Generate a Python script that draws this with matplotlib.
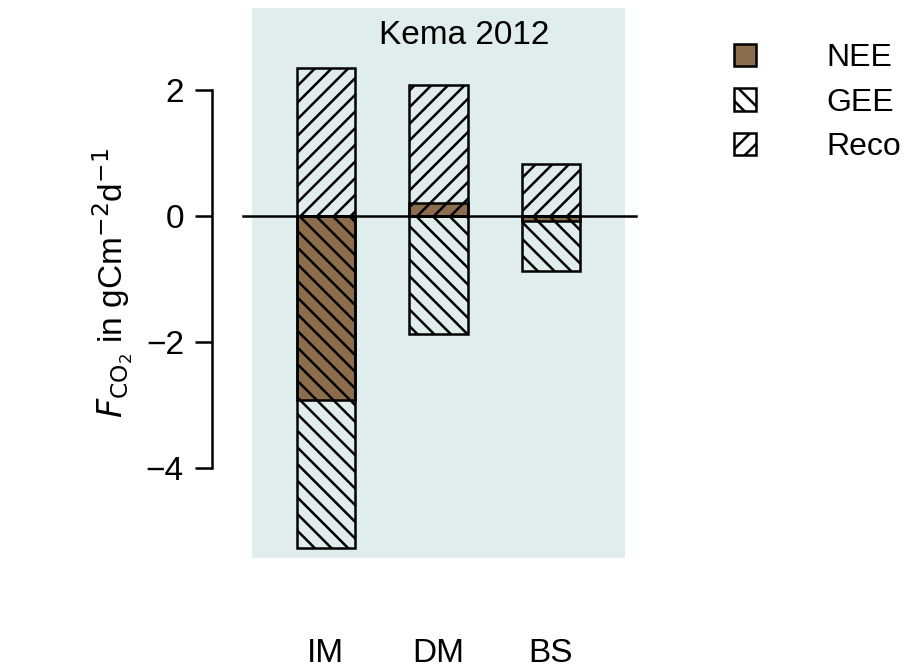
import matplotlib.pyplot as plt
from matplotlib.patches import Patch

plt.rcParams['font.family'] = ['Liberation Sans', 'DejaVu Sans']
plt.rcParams['hatch.linewidth'] = 1.8

sites = ["IM", "DM", "BS"]
nee = [-2.92, 0.2, -0.09]
gee = [-5.27, -1.88, -0.88]
reco = [2.35, 2.07, 0.82]

brown = "#8c6d4b"
bg = "#dfeded"

fig = plt.figure(figsize=(9.16, 6.68), dpi=100)
ax = fig.add_axes([0.275, 0.165, 0.407, 0.823])
ax.set_facecolor(bg)
x = range(len(sites))
w = 0.52
ax.bar(x, nee, w, color=brown, edgecolor="black", linewidth=1.8, zorder=2)
ax.bar(x, gee, w, color="none", edgecolor="black", hatch="\\\\", linewidth=1.8, zorder=3)
ax.bar(x, reco, w, color="none", edgecolor="black", hatch="//", linewidth=1.8, zorder=3)
ax.axhline(0, xmin=-0.025, xmax=1.03, color="black", linewidth=1.8, clip_on=False, zorder=4)

ax.set_xlim(-0.658, 2.658)
ax.set_ylim(-5.43, 3.30)
for s in ["top", "right", "bottom"]:
    ax.spines[s].set_visible(False)
ax.spines["left"].set_position(("outward", 29))
ax.spines["left"].set_bounds(-4, 2)
ax.spines["left"].set_linewidth(1.8)
ax.set_yticks([-4, -2, 0, 2])
ax.set_yticklabels(["\u22124", "\u22122", "0", "2"])
ax.tick_params(axis="y", labelsize=24, width=1.8, length=12, pad=8)
ax.set_xticks([])
for i, s in enumerate(sites):
    ax.text(i, -0.175, s, transform=ax.get_xaxis_transform(), ha="center", va="center", fontsize=24)
ax.set_ylabel(r"$F_{\mathrm{CO_2}}$ in gCm$^{-2}$d$^{-1}$", fontsize=24, labelpad=8)
ax.text(0.57, 0.95, "Kema 2012", transform=ax.transAxes, ha="center", va="center", fontsize=24)

handles = [Patch(facecolor=brown, edgecolor="black", linewidth=1.8),
           Patch(facecolor="white", edgecolor="black", hatch="\\\\", linewidth=1.8),
           Patch(facecolor="white", edgecolor="black", hatch="//", linewidth=1.8)]
fig.legend(handles, ["NEE", "GEE", "Reco"], loc="upper left", bbox_to_anchor=(0.77, 0.978),
           frameon=False, fontsize=23, handlelength=0.7, handleheight=0.7, labelspacing=0.45,
           handletextpad=2.2)

fig.savefig("out.png")
